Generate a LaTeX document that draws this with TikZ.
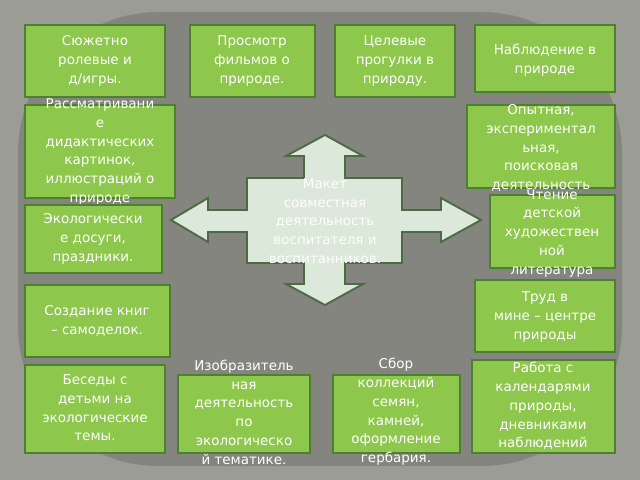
\documentclass[tikz,border=0pt]{standalone}
\usepackage{fontspec}
\setmainfont{DejaVu Sans}
\definecolor{bggray}{HTML}{9C9C96}
\definecolor{ovalgray}{HTML}{85857F}
\definecolor{boxgreen}{HTML}{8DC74C}
\definecolor{boxline}{HTML}{4F7F33}
\definecolor{crossfill}{HTML}{DCE8DA}
\definecolor{crossline}{HTML}{4C6A44}
\tikzset{
  box/.style={draw=boxline, line width=1.6pt, fill=boxgreen},
  boxtext/.style={text=white, font=\fontsize{11.5}{16}\selectfont, align=center, inner sep=0pt}
}
\begin{document}
\begin{tikzpicture}[x=0.03cm, y=-0.03cm]
    % Background
    \fill[bggray] (0,0) rectangle (640,480);
    \useasboundingbox (0,0) rectangle (640,480);
    \fill[ovalgray, rounded corners=120] (18,12) rectangle (622,466);

    % Cross of arrows
    \draw[crossline, line width=1.6pt, fill=crossfill]
      (325,135) -- (363,156) -- (345,156) -- (345,178) -- (402,178) -- (402,210)
      -- (441,210) -- (441,198) -- (481,220) -- (441,242) -- (441,232) -- (402,232)
      -- (402,263) -- (345,263) -- (345,284) -- (363,284) -- (325,305) -- (286,284)
      -- (304,284) -- (304,263) -- (247,263) -- (247,232) -- (208,232) -- (208,242)
      -- (171,220) -- (208,198) -- (208,210) -- (247,210) -- (247,178) -- (304,178)
      -- (304,156) -- (286,156) -- cycle;
    \node[boxtext, text=white!95!crossfill] (centre) at (325,221)
      {Макет\\совместная\\деятельность\\воспитателя и\\воспитанников.};

    % Boxes
    \draw[box] (25,25) rectangle (165,97);
    \node[boxtext] (games) at (95,61) {Сюжетно\\ролевые и\\д/игры.};
    \draw[box] (190,25) rectangle (315,97);
    \node[boxtext] (films) at (252,61) {Просмотр\\фильмов о\\природе.};
    \draw[box] (335,25) rectangle (455,97);
    \node[boxtext] (walks) at (395,61) {Целевые\\прогулки в\\природу.};
    \draw[box] (475,25) rectangle (615,92);
    \node[boxtext] (observe) at (545,60) {Наблюдение в\\природе};
    \draw[box] (25,105) rectangle (175,198);
    \node[boxtext] (pictures) at (100,152) {Рассматривани\\е\\дидактических\\картинок,\\иллюстраций о\\природе};
    \draw[box] (467,105) rectangle (615,188);
    \node[boxtext] (research) at (541,148) {Опытная,\\экспериментал\\ьная,\\поисковая\\деятельность};
    \draw[box] (25,205) rectangle (162,273);
    \node[boxtext] (leisure) at (93,239) {Экологически\\е досуги,\\праздники.};
    \draw[box] (490,195) rectangle (615,268);
    \node[boxtext] (reading) at (552,233) {Чтение\\детской\\художествен\\ной\\литература};
    \draw[box] (25,285) rectangle (170,357);
    \node[boxtext] (books) at (97,321) {Создание книг\\– самоделок.};
    \draw[box] (475,280) rectangle (615,352);
    \node[boxtext] (labour) at (545,317) {Труд в\\мине – центре\\природы};
    \draw[box] (25,365) rectangle (165,453);
    \node[boxtext] (talks) at (95,408) {Беседы с\\детьми на\\экологические\\темы.};
    \draw[box] (178,375) rectangle (310,453);
    \node[boxtext] (art) at (244,412) {Изобразитель\\ная\\деятельность\\по\\экологическо\\й тематике.};
    \draw[box] (333,375) rectangle (460,453);
    \node[boxtext] (collect) at (396,412) {Сбор\\коллекций\\семян,\\камней,\\оформление\\гербария.};
    \draw[box] (472,360) rectangle (615,453);
    \node[boxtext] (calendar) at (543,406) {Работа с\\календарями\\природы,\\дневниками\\наблюдений};
\end{tikzpicture}
\end{document}
